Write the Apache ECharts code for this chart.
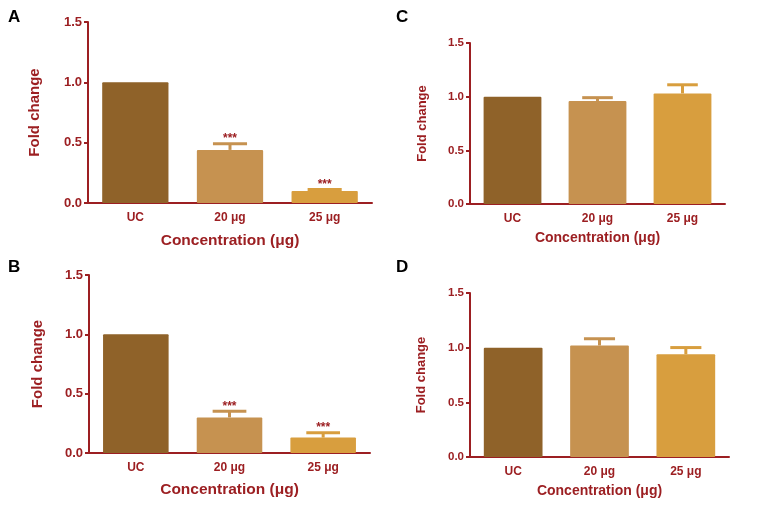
<!DOCTYPE html>
<html>
<head>
<meta charset="utf-8">
<script src="https://cdn.jsdelivr.net/npm/echarts@6/dist/echarts.min.js"></script>
<style>html,body{margin:0;padding:0;background:#fff}#c{width:777px;height:513px}</style>
</head>
<body>
<div id="c"></div>
<script>
const categories = ['UC', '20 \u03bcg', '25 \u03bcg'];
const yTicks = [0, 0.5, 1.0, 1.5];
const barColors = ['#8F6229', '#C69250', '#D89E3E'];

const meanA = [1.0, 0.44, 0.10];
const errA  = [0, 0.06, 0.02];
const sigA  = ['', '***', '***'];

const meanB = [1.0, 0.30, 0.13];
const errB  = [0, 0.06, 0.05];
const sigB  = ['', '***', '***'];

const meanC = [1.0, 0.96, 1.03];
const errC  = [0, 0.04, 0.09];
const sigC  = ['', '', ''];

const meanD = [1.0, 1.02, 0.94];
const errD  = [0, 0.07, 0.07];
const sigD  = ['', '', ''];

const panelLetters = ['A', 'B', 'C', 'D'];
const xName = 'Concentration (\u03bcg)';
const yName = 'Fold change';

const RED = '#9C1F22';
const FONT = '"Liberation Sans", Arial, sans-serif';

const panels = [
  {mean: meanA, err: errA, sig: sigA, grid: {left: 88, top: 22, width: 284, height: 181}, bw: '70%', fy: 13, fx: 12, fname: 15, fcon: 15.5, yGap: 46, xGap: 30},
  {mean: meanB, err: errB, sig: sigB, grid: {left: 89, top: 275, width: 281, height: 178}, bw: '70%', fy: 13, fx: 12, fname: 15, fcon: 15.5, yGap: 44, xGap: 29},
  {mean: meanC, err: errC, sig: sigC, grid: {left: 470, top: 43, width: 255, height: 161}, bw: '68%', fy: 11.5, fx: 12, fname: 13, fcon: 14, yGap: 41, xGap: 27},
  {mean: meanD, err: errD, sig: sigD, grid: {left: 470, top: 293, width: 259, height: 164}, bw: '68%', fy: 11.5, fx: 12, fname: 13, fcon: 14, yGap: 42, xGap: 27}
];

const grid = [], xAxis = [], yAxis = [], series = [];
panels.forEach((p, i) => {
  grid.push(Object.assign({containLabel: false}, p.grid));
  xAxis.push({
    type: 'category', gridIndex: i, data: categories,
    name: xName, nameLocation: 'middle', nameGap: p.xGap,
    nameTextStyle: {color: RED, fontWeight: 'bold', fontSize: p.fcon, fontFamily: FONT},
    axisLine: {lineStyle: {color: RED, width: 2}},
    axisTick: {alignWithLabel: true, length: 4, lineStyle: {color: RED, width: 2}},
    axisLabel: {color: RED, fontWeight: 'bold', fontSize: p.fx, fontFamily: FONT, margin: 9}
  });
  yAxis.push({
    type: 'value', gridIndex: i, min: 0, max: 1.5, interval: 0.5,
    name: yName, nameLocation: 'middle', nameGap: p.yGap,
    nameTextStyle: {color: RED, fontWeight: 'bold', fontSize: p.fname, fontFamily: FONT},
    axisLine: {show: true, lineStyle: {color: RED, width: 2}},
    axisTick: {show: true, length: 4, lineStyle: {color: RED, width: 2}},
    splitLine: {show: false},
    axisLabel: {color: RED, fontWeight: 'bold', fontSize: p.fy, fontFamily: FONT, margin: 6,
      formatter: v => v.toFixed(1)}
  });
  series.push({
    type: 'bar', xAxisIndex: i, yAxisIndex: i, barWidth: p.bw,
    data: p.mean.map((v, k) => ({value: v, itemStyle: {color: barColors[k], borderRadius: 1}})),
    silent: true, animation: false
  });
  series.push({
    type: 'custom', xAxisIndex: i, yAxisIndex: i, animation: false, silent: true, z: 3,
    data: p.mean.map((v, k) => [k, v, v + p.err[k], k]),
    renderItem: function (params, api) {
      const k = api.value(3);
      const children = [];
      const top = api.coord([api.value(0), api.value(1)]);
      const hi = api.coord([api.value(0), api.value(2)]);
      const cw = api.size([1, 0])[0];
      const half = cw * 0.18;
      const col = barColors[k];
      if (p.err[k] > 0) {
        children.push({type: 'line', shape: {x1: top[0], y1: top[1], x2: hi[0], y2: hi[1] + 1}, style: {stroke: col, lineWidth: 3}});
        children.push({type: 'line', shape: {x1: hi[0] - half, y1: hi[1] + 1, x2: hi[0] + half, y2: hi[1] + 1}, style: {stroke: col, lineWidth: 3}});
      }
      if (p.sig[k]) {
        children.push({type: 'text', style: {text: p.sig[k], x: hi[0], y: hi[1] - 4, textAlign: 'center', textVerticalAlign: 'middle', fill: RED, font: 'bold 12px ' + FONT}});
      }
      return {type: 'group', children: children};
    }
  });
});

const graphic = [
  {type: 'text', left: 8, top: 9, style: {text: 'A', font: 'bold 17px ' + FONT, fill: '#000'}},
  {type: 'text', left: 8, top: 259, style: {text: 'B', font: 'bold 17px ' + FONT, fill: '#000'}},
  {type: 'text', left: 396, top: 9, style: {text: 'C', font: 'bold 17px ' + FONT, fill: '#000'}},
  {type: 'text', left: 396, top: 259, style: {text: 'D', font: 'bold 17px ' + FONT, fill: '#000'}}
];

const chart = echarts.init(document.getElementById('c'), null, {renderer: 'canvas'});
chart.setOption({backgroundColor: '#fff', animation: false, grid, xAxis, yAxis, series, graphic});
</script>
</body>
</html>
